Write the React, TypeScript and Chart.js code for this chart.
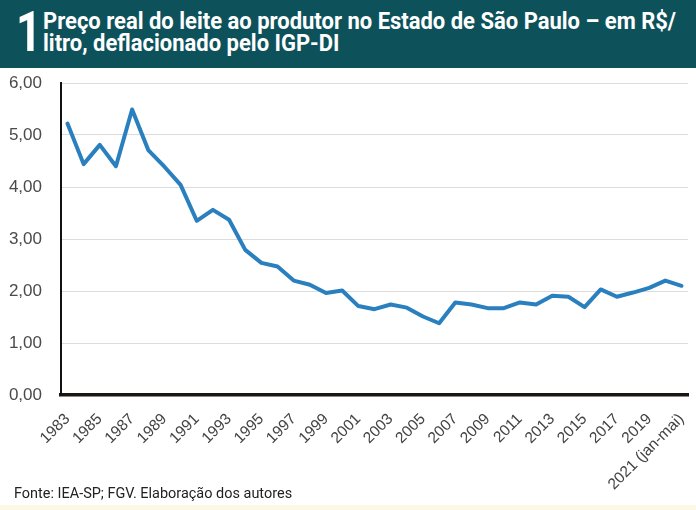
import React, { useEffect, useLayoutEffect, useRef } from "react";
import { Chart, registerables } from "chart.js";

Chart.register(...registerables);

const years: number[] = [
  1983, 1984, 1985, 1986, 1987, 1988, 1989, 1990, 1991, 1992,
  1993, 1994, 1995, 1996, 1997, 1998, 1999, 2000, 2001, 2002,
  2003, 2004, 2005, 2006, 2007, 2008, 2009, 2010, 2011, 2012,
  2013, 2014, 2015, 2016, 2017, 2018, 2019, 2020, 2021,
];

const prices: number[] = [
  5.22, 4.44, 4.81, 4.4, 5.49, 4.71, 4.39, 4.04, 3.35, 3.56,
  3.37, 2.79, 2.54, 2.47, 2.2, 2.12, 1.96, 2.01, 1.71, 1.65,
  1.74, 1.68, 1.51, 1.38, 1.78, 1.74, 1.67, 1.67, 1.78, 1.74,
  1.91, 1.89, 1.69, 2.03, 1.89, 1.97, 2.06, 2.2, 2.1,
];

const tickYears: number[] = [
  1983, 1985, 1987, 1989, 1991, 1993, 1995, 1997, 1999, 2001,
  2003, 2005, 2007, 2009, 2011, 2013, 2015, 2017, 2019, 2021,
];

const tickLabels: string[] = [
  "1983", "1985", "1987", "1989", "1991", "1993", "1995", "1997", "1999", "2001",
  "2003", "2005", "2007", "2009", "2011", "2013", "2015", "2017", "2019", "2021 (jan-mai)",
];

const yTicks: number[] = [0, 1, 2, 3, 4, 5, 6];

const titleLine1 = "Preço real do leite ao produtor no Estado de São Paulo – em R$/";
const titleLine2 = "litro, deflacionado pelo IGP-DI";
const sourceText = "Fonte: IEA-SP; FGV. Elaboração dos autores";

const baseFont = 'Roboto, "Liberation Sans", Arial, sans-serif';

export default function App() {
  const ref = useRef<HTMLCanvasElement | null>(null);
  const t1 = useRef<HTMLSpanElement | null>(null);
  const t2 = useRef<HTMLSpanElement | null>(null);
  const src = useRef<HTMLSpanElement | null>(null);

  useLayoutEffect(() => {
    document.body.style.margin = "0";
    if (t1.current && t2.current) {
      const w = t1.current.offsetWidth;
      const s = w > 0 ? 633 / w : 1;
      t1.current.style.transform = `scaleX(${s})`;
      t2.current.style.transform = `scaleX(${s})`;
    }
    if (src.current) {
      const w = src.current.offsetWidth;
      const s = w > 0 ? 278 / w : 1;
      src.current.style.transform = `scaleX(${s})`;
    }
  }, []);

  useEffect(() => {
    const canvas = ref.current;
    if (!canvas) return;
    const chart = new Chart(canvas, {
      type: "line",
      data: {
        datasets: [
          {
            data: years.map((y, i) => ({ x: y, y: prices[i] })),
            borderColor: "#2a7fbf",
            borderWidth: 4,
            pointRadius: 0,
            tension: 0,
            borderJoinStyle: "round",
            borderCapStyle: "round",
            fill: false,
          },
        ],
      },
      options: {
        animation: false,
        responsive: false,
        maintainAspectRatio: false,
        layout: { padding: { top: 15, right: 8, left: 0, bottom: 0 } },
        plugins: { legend: { display: false }, tooltip: { enabled: false } },
        scales: {
          x: {
            type: "linear",
            min: 1982.6,
            max: 2021.4,
            afterBuildTicks: (scale: any) => {
              scale.ticks = tickYears.map((v) => ({ value: v }));
            },
            afterFit: (scale: any) => {
              scale.height = 110;
              scale.paddingLeft = 0;
              scale.paddingRight = 0;
            },
            grid: { display: false, drawTicks: false },
            border: { display: true, color: "#1a1412", width: 3.5 },
            ticks: {
              autoSkip: false,
              maxRotation: 45,
              minRotation: 45,
              padding: 15,
              color: "#444",
              font: { family: '"Liberation Sans", Arial, sans-serif', size: 15.5 },
              callback: (value: any) => {
                const idx = tickYears.indexOf(Number(value));
                return idx >= 0 ? tickLabels[idx] : "";
              },
            },
          },
          y: {
            min: 0,
            max: 6,
            afterBuildTicks: (scale: any) => {
              scale.ticks = yTicks.map((v) => ({ value: v }));
            },
            afterFit: (scale: any) => {
              scale.width = 61;
            },
            grid: {
              color: "#dcdcdc",
              lineWidth: 1,
              drawTicks: true,
              tickLength: 19,
              tickColor: "rgba(0,0,0,0)",
            },
            border: { display: true, color: "#111", width: 2 },
            ticks: {
              padding: 0,
              color: "#4a4a4a",
              font: { family: '"Liberation Sans", Arial, sans-serif', size: 17 },
              callback: (value: any) => Number(value).toFixed(2).replace(".", ","),
            },
          },
        },
      },
    });
    return () => chart.destroy();
  }, []);

  const lineStyle: React.CSSProperties = {
    display: "inline-block",
    transformOrigin: "0 0",
    whiteSpace: "nowrap",
  };

  return (
    <div style={{ position: "relative", width: 696, height: 510, background: "#fff", overflow: "hidden" }}>
      <div
        style={{
          position: "absolute",
          left: 0,
          top: 0,
          width: 696,
          height: 68,
          background: "#0d525b",
          color: "#fff",
          fontFamily: baseFont,
          fontWeight: "bold",
        }}
      >
        <div
          style={{
            position: "absolute",
            left: 16,
            top: 0,
            fontSize: 56,
            lineHeight: "64px",
            transform: "scaleX(0.8)",
            transformOrigin: "0 0",
          }}
        >
          1
        </div>
        <div style={{ position: "absolute", left: 43, top: 10, fontSize: 24, lineHeight: "22px" }}>
          <span ref={t1} style={lineStyle}>{titleLine1}</span>
          <br />
          <span ref={t2} style={lineStyle}>{titleLine2}</span>
        </div>
      </div>
      <canvas
        ref={ref}
        width={696}
        height={437}
        style={{ position: "absolute", left: 0, top: 68, width: 696, height: 437 }}
      />
      <div
        style={{
          position: "absolute",
          left: 14,
          top: 483,
          fontFamily: baseFont,
          fontSize: 15.5,
          color: "#222",
          lineHeight: "20px",
        }}
      >
        <span ref={src} style={lineStyle}>{sourceText}</span>
      </div>
      <div style={{ position: "absolute", left: 0, top: 505, width: 696, height: 5, background: "#fdf8e6" }} />
    </div>
  );
}
